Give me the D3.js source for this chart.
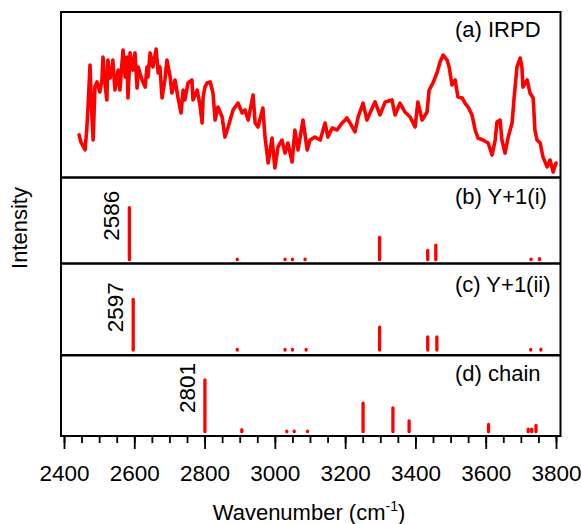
<!DOCTYPE html>
<html><head><meta charset="utf-8">
<script src="https://cdn.jsdelivr.net/npm/d3@7"></script>
<style>
body{margin:0;background:#fff}
svg{display:block}
text{font-family:"Liberation Sans",Arial,Helvetica,sans-serif;fill:#000}
</style>
</head><body>
<svg id="chart" width="582" height="524"></svg>
<script>
// ---- data ----
const irpdWavenumber = [2443,2448,2460,2465,2468,2474,2480,2483,2488,2494,2502,2508,2511,2517,2522,2525,2531,2537,2539,2545,2554,2559,2568,2574,2579,2582,2588,2596,2602,2608,2611,2622,2631,2636,2639,2645,2653,2662,2668,2673,2679,2687,2693,2702,2707,2716,2724,2733,2739,2744,2753,2764,2767,2779,2787,2793,2796,2801,2807,2816,2824,2830,2838,2850,2858,2867,2881,2895,2907,2915,2924,2938,2944,2952,2966,2972,2981,2992,3000,3009,3020,3029,3037,3049,3057,3066,3080,3092,3100,3114,3129,3143,3151,3163,3177,3191,3200,3205,3214,3228,3237,3251,3262,3277,3285,3299,3314,3333,3342,3356,3370,3385,3399,3407,3419,3433,3439,3450,3462,3470,3479,3490,3496,3504,3513,3521,3533,3541,3550,3561,3570,3578,3592,3607,3618,3627,3632,3641,3646,3655,3664,3675,3681,3689,3698,3703,3706,3718,3726,3735,3740,3746,3755,3763,3775,3783,3792,3800];
const irpdIntensity = [25.5,21.2,16.4,29.7,40.6,67.9,34.5,22.4,54.5,57.6,51.5,58.8,72.7,55.8,46.7,70.9,60.0,64.8,70.9,52.7,64.8,52.7,77.0,60.6,72.7,47.9,75.2,64.8,75.2,53.9,66.7,58.8,54.5,66.7,60.6,75.2,66.7,77.6,63.0,66.7,47.9,58.8,70.9,60.6,50.9,58.8,48.5,38.8,52.7,46.7,57.0,58.8,46.7,52.7,43.6,32.7,48.5,54.5,57.0,57.6,50.9,34.5,42.4,36.4,24.2,30.3,40.6,44.8,38.8,40.6,34.5,49.7,32.7,30.3,41.8,24.2,8.5,23.6,5.5,18.2,22.4,14.5,20.6,9.1,28.5,16.4,34.5,16.4,22.4,24.2,22.4,32.7,24.2,29.7,28.5,32.7,34.5,35.8,32.7,27.3,36.4,44.8,34.5,41.8,45.5,37.6,45.5,46.7,37.6,44.8,39.4,36.4,30.3,45.5,34.5,39.4,52.7,57.0,63.6,69.7,73.9,70.9,66.7,55.8,58.8,48.5,47.9,44.8,42.4,37.6,28.5,23.6,22.4,20.6,13.3,22.4,33.3,34.5,22.4,14.5,24.2,32.7,48.5,66.7,72.1,66.7,54.5,58.8,50.9,47.9,28.5,22.4,20.6,12.1,6.1,10.3,3.0,8.5];

const y1iWavenumber = [2586,2893,3029,3050,3086,3298,3435,3458,3729,3753];
const y1iIntensity  = [100,1,1,1,1,43,18,28,1,2];
const y1iiWavenumber = [2597,2893,3029,3050,3089,3298,3435,3461,3728,3757];
const y1iiIntensity  = [97.5,1,1,1,1,44,25,25,1,1.5];
const chainWavenumber = [2801,2906,3034,3055,3093,3251,3336,3382,3608,3721,3731,3743];
const chainIntensity  = [99.5,4,1,1,1,55,46,21,14,5,5,12];

const panelLabels = ["(a) IRPD","(b) Y+1(i)","(c) Y+1(ii)","(d) chain"];
const peakLabels = ["2586","2597","2801"];
const majorTicks = [2400,2600,2800,3000,3200,3400,3600,3800];
const minorTicks = d3.range(2400, 3801, 50);
const xTitle = "Wavenumber (cm";
const xTitleSup = "-1";
const yTitle = "Intensity";

// ---- layout ----
const svg = d3.select("#chart");
const frameL = 61, frameR = 560.5;
const panelTops = [12, 177.5, 263.5, 355.3];
const panelBottom = 436;
const stickBases = [259.7, 350, 431.7];
const red = "#ff0000";

const x = d3.scaleLinear().domain([2400, 3800]).range([64, 556]);

// panel a
const yA = d3.scaleLinear().domain([0, 100]).range([177, 12]);
svg.append("path")
  .datum(irpdWavenumber.map((w, i) => [w, irpdIntensity[i]]))
  .attr("fill", "none").attr("stroke", red).attr("stroke-width", 3.6)
  .attr("stroke-linejoin", "round").attr("stroke-linecap", "round")
  .attr("d", d3.line().x(d => x(d[0])).y(d => yA(d[1])));

// stick panels
const stickSets = [
  [y1iWavenumber, y1iIntensity],
  [y1iiWavenumber, y1iiIntensity],
  [chainWavenumber, chainIntensity]
];
stickSets.forEach(([wn, inten], p) => {
  const base = stickBases[p];
  const y = d3.scaleLinear().domain([0, 100]).range([base, base - 52]);
  svg.append("g").selectAll("line").data(wn.map((w, i) => [w, inten[i]])).join("line")
    .attr("x1", d => x(d[0])).attr("x2", d => x(d[0]))
    .attr("y1", y(0)).attr("y2", d => y(d[1]))
    .attr("stroke", red).attr("stroke-width", 3.3).attr("stroke-linecap", "round");
  const w0 = wn[0], i0 = inten[0];
  svg.append("text")
    .attr("transform", `translate(${x(w0) - 10},${y(i0) + 8}) rotate(-90)`)
    .attr("text-anchor", "middle").style("font-size", "22.5px")
    .text(peakLabels[p]);
});

// frame
svg.append("rect").attr("x", frameL).attr("y", panelTops[0])
  .attr("width", frameR - frameL).attr("height", panelBottom - panelTops[0])
  .attr("fill", "none").attr("stroke", "#000").attr("stroke-width", 2);
panelTops.slice(1).forEach(t => {
  svg.append("line").attr("x1", frameL).attr("x2", frameR).attr("y1", t).attr("y2", t)
    .attr("stroke", "#000").attr("stroke-width", 2.5);
});

// panel labels
const labelBaselines = [37, 203.5, 292, 380.5];
panelLabels.forEach((l, i) => {
  svg.append("text").attr("x", 455).attr("y", labelBaselines[i])
    .style("font-size", "22px").text(l);
});

// axis
const minorAxis = d3.axisBottom(x).tickValues(minorTicks).tickSize(7).tickFormat("");
const majorAxis = d3.axisBottom(x).tickValues(majorTicks).tickSize(13).tickPadding(16).tickFormat(d3.format("d"));
const gMinor = svg.append("g").attr("transform", `translate(0,${panelBottom})`).call(minorAxis);
const gMajor = svg.append("g").attr("transform", `translate(0,${panelBottom})`).call(majorAxis);
[gMinor, gMajor].forEach(g => {
  g.select(".domain").remove();
  g.selectAll(".tick line").attr("stroke", "#000").attr("stroke-width", 1.8);
});
gMajor.selectAll(".tick text").style("font-size", "22.5px")
  .style("font-family", '"Liberation Sans",Arial,sans-serif').attr("fill", "#000");

// titles
const t = svg.append("text").attr("x", 309).attr("y", 520).attr("text-anchor", "middle")
  .style("font-size", "22px");
t.append("tspan").text(xTitle);
t.append("tspan").attr("dy", -9).style("font-size", "14px").text(xTitleSup);
t.append("tspan").attr("dy", 9).text(")");

svg.append("text").attr("transform", "translate(27,228) rotate(-90)")
  .attr("text-anchor", "middle").style("font-size", "22px").text(yTitle);
</script>
</body></html>
